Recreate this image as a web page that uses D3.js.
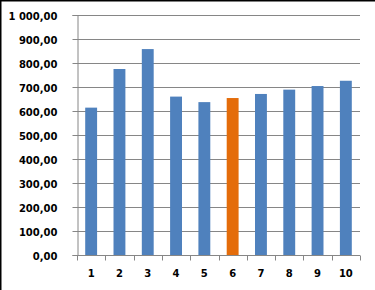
<!DOCTYPE html>
<html>
<head>
<meta charset="utf-8">
<script src="https://cdn.jsdelivr.net/npm/d3@7"></script>
<style>
  body { margin: 0; background: #fff; }
  svg text { font-family: "DejaVu Sans", Verdana, sans-serif; font-weight: bold; font-size: 10px; fill: #000; }
</style>
</head>
<body>
<svg id="chart"></svg>
<script>
// Data
const categories = ["1", "2", "3", "4", "5", "6", "7", "8", "9", "10"];
const values = [614, 775, 858, 660, 637, 654, 671, 689, 704, 726];
const highlighted = ["6"];
const yTicks = [0, 100, 200, 300, 400, 500, 600, 700, 800, 900, 1000];

const width = 375, height = 290;
const plot = { left: 77, right: 360, top: 15, bottom: 255 };

const svg = d3.select("#chart")
  .attr("width", width)
  .attr("height", height);

// frame edges visible in the crop (top and left)
svg.append("rect").attr("x", 0).attr("y", 0).attr("width", width).attr("height", 1.5).attr("fill", "#000");
svg.append("rect").attr("x", 0).attr("y", 0).attr("width", 1.5).attr("height", height).attr("fill", "#000");

const x = d3.scaleBand()
  .domain(categories)
  .range([plot.left, plot.right])
  .paddingInner(0.58)
  .paddingOuter(0.29);

const y = d3.scaleLinear()
  .domain([0, 1000])
  .range([plot.bottom, plot.top]);

const fmt = function(v) {
  const s = d3.format(",.2f")(v);
  return s.replace(/,/g, " ").replace(".", ",");
};

// gridlines
svg.append("g")
  .selectAll("line")
  .data(yTicks.slice(1))
  .enter()
  .append("line")
  .attr("x1", plot.left)
  .attr("x2", plot.right)
  .attr("y1", function(d) { return Math.round(y(d)) + 0.5; })
  .attr("y2", function(d) { return Math.round(y(d)) + 0.5; })
  .attr("stroke", "#868686")
  .attr("stroke-width", 1);

// bars
svg.append("g")
  .selectAll("rect")
  .data(values)
  .enter()
  .append("rect")
  .attr("x", function(d, i) { return x(categories[i]); })
  .attr("y", function(d) { return y(d); })
  .attr("width", x.bandwidth())
  .attr("height", function(d) { return plot.bottom - y(d); })
  .attr("fill", function(d, i) { return highlighted.includes(categories[i]) ? "#E46C0A" : "#4F81BD"; });

// y axis
const yAxis = svg.append("g")
  .attr("transform", "translate(" + (plot.left + 0.5) + ",0)")
  .call(d3.axisLeft(y).tickValues(yTicks).tickFormat(fmt).tickSize(5).tickPadding(15));
yAxis.selectAll("line, path").attr("stroke", "#868686");
yAxis.selectAll("text").attr("dy", "0.42em").attr("font-family", null).attr("font-size", null);

// x axis
const xTicks = d3.range(categories.length + 1).map(function(i) {
  return plot.left + i * (plot.right - plot.left) / categories.length;
});
const xAxis = svg.append("g")
  .attr("transform", "translate(0," + (plot.bottom + 0.5) + ")");
xAxis.append("line")
  .attr("x1", plot.left).attr("x2", plot.right)
  .attr("stroke", "#868686");
xAxis.selectAll(".tick")
  .data(xTicks)
  .enter()
  .append("line")
  .attr("x1", function(d) { return Math.round(d) + 0.5; })
  .attr("x2", function(d) { return Math.round(d) + 0.5; })
  .attr("y1", 0)
  .attr("y2", 5)
  .attr("stroke", "#868686");
xAxis.selectAll("text")
  .data(categories)
  .enter()
  .append("text")
  .attr("x", function(d) { return x(d) + x.bandwidth() / 2; })
  .attr("y", 21)
  .attr("text-anchor", "middle")
  .text(function(d) { return d; });
</script>
</body>
</html>
